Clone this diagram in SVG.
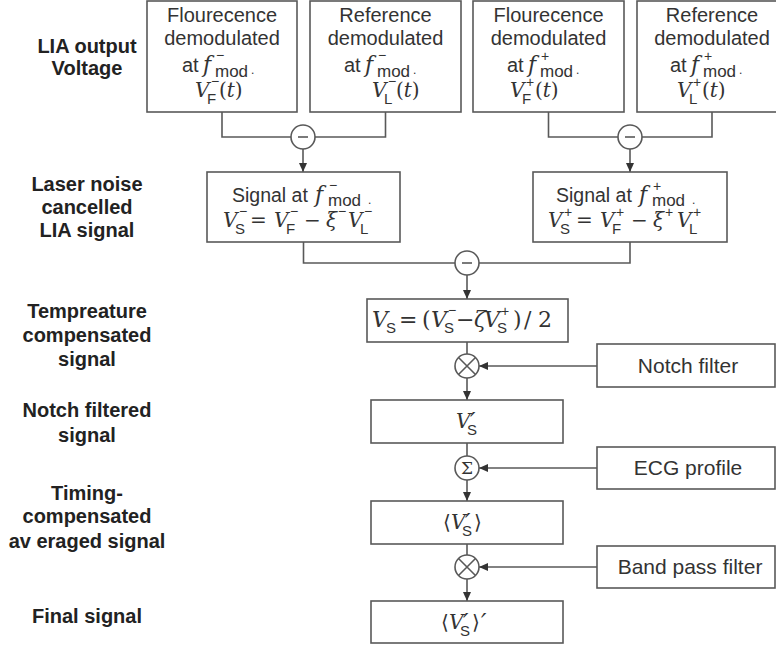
<svg xmlns="http://www.w3.org/2000/svg" width="776" height="646" viewBox="0 0 776 646">
<style>
.box{fill:#fff;stroke:#595959;stroke-width:1.6}
.ln{fill:none;stroke:#595959;stroke-width:1.6}
.arr{fill:none;stroke:#595959;stroke-width:1.6;marker-end:url(#ah)}
.op{fill:#fff;stroke:#595959;stroke-width:1.6}
.t{font-family:"Liberation Sans",Arial,sans-serif;font-size:20px;fill:#333}
.tc{text-anchor:middle}
.r{font-size:21px}
.lbl{font-family:"Liberation Sans",Arial,sans-serif;font-weight:bold;font-size:20px;fill:#222;text-anchor:middle}
.mi{font-family:"DejaVu Serif","Liberation Serif",serif;font-style:italic;font-size:20px}
.mr{font-family:"DejaVu Serif","Liberation Serif",serif;font-style:normal;font-size:20px}
.sb{font-family:"Liberation Sans",Arial,sans-serif;font-style:normal;font-size:15px}
.sp{font-family:"Liberation Sans",Arial,sans-serif;font-style:normal;font-size:14px}
.mod{font-family:"Liberation Sans",Arial,sans-serif;font-style:normal;font-size:17px}
.dot{font-size:12px}
.big{font-size:22px}
.pr{font-family:"DejaVu Sans","Liberation Sans",sans-serif;font-style:italic;font-size:24px}
</style>
<defs>
<marker id="ah" markerUnits="userSpaceOnUse" markerWidth="9" markerHeight="8" refX="9" refY="4" orient="auto">
<path d="M0,0 L9,4 L0,8 z" fill="#333"/>
</marker>
</defs>

<g id="labels">
<text class="lbl" x="87" y="53">LIA output</text>
<text class="lbl" x="87" y="75">Voltage</text>
<text class="lbl" x="87" y="191">Laser noise</text>
<text class="lbl" x="87" y="214">cancelled</text>
<text class="lbl" x="87" y="237">LIA signal</text>
<text class="lbl" x="87" y="318">Tempreature</text>
<text class="lbl" x="87" y="342">compensated</text>
<text class="lbl" x="87" y="366">signal</text>
<text class="lbl" x="87" y="417">Notch filtered</text>
<text class="lbl" x="87" y="442">signal</text>
<text class="lbl" x="87" y="500">Timing-</text>
<text class="lbl" x="87" y="523">compensated</text>
<text class="lbl" x="87" y="548">av eraged signal</text>
<text class="lbl" x="87" y="623">Final signal</text>
</g>

<g id="connectors">
<path class="ln" d="M222,112 V137 H291"/>
<path class="ln" d="M385.5,112 V137 H315"/>
<path class="arr" d="M303,149 V172"/>
<path class="ln" d="M548.5,112 V137 H618"/>
<path class="ln" d="M712,112 V137 H642"/>
<path class="arr" d="M630,149 V172"/>
<path class="ln" d="M303.5,242 V263 H455"/>
<path class="ln" d="M630,242 V263 H479"/>
<path class="arr" d="M467,275 V299"/>
<path class="ln" d="M467,342 V354"/>
<path class="arr" d="M467,378 V400"/>
<path class="arr" d="M597,366 H479"/>
<path class="ln" d="M467,443 V456"/>
<path class="arr" d="M467,480 V501"/>
<path class="arr" d="M597,468 H479"/>
<path class="ln" d="M467,544 V555"/>
<path class="arr" d="M467,579 V601"/>
<path class="arr" d="M597,567 H479"/>
</g>

<g id="fluor-minus">
<rect class="box" x="147" y="1" width="150" height="111"/>
<text class="t tc" x="222" y="22">Flourecence</text>
<text class="t tc" x="222" y="45">demodulated</text>
<text class="t" y="72"><tspan x="182">at</tspan><tspan class="mi big" x="203">f</tspan><tspan class="sp" x="216" y="60">−</tspan><tspan class="mod" x="215" y="77">mod</tspan><tspan class="dot" x="251" y="74">.</tspan></text>
<text class="t" y="97"><tspan class="mi" x="195">V</tspan><tspan class="sp" x="211" y="86">−</tspan><tspan class="sb" x="207" y="104">F</tspan><tspan class="mr" x="219" y="97">(</tspan><tspan class="mi">t</tspan><tspan class="mr">)</tspan></text>
</g>

<g id="ref-minus">
<rect class="box" x="310" y="1" width="151" height="111"/>
<text class="t tc" x="385.5" y="22">Reference</text>
<text class="t tc" x="385.5" y="45">demodulated</text>
<text class="t" y="72"><tspan x="344">at</tspan><tspan class="mi big" x="365">f</tspan><tspan class="sp" x="378" y="60">−</tspan><tspan class="mod" x="377" y="77">mod</tspan><tspan class="dot" x="413" y="74">.</tspan></text>
<text class="t" y="97"><tspan class="mi" x="372">V</tspan><tspan class="sp" x="388" y="86">−</tspan><tspan class="sb" x="384" y="104">L</tspan><tspan class="mr" x="396" y="97">(</tspan><tspan class="mi">t</tspan><tspan class="mr">)</tspan></text>
</g>

<g id="fluor-plus">
<rect class="box" x="473" y="1" width="151" height="111"/>
<text class="t tc" x="548.5" y="22">Flourecence</text>
<text class="t tc" x="548.5" y="45">demodulated</text>
<text class="t" y="72"><tspan x="507">at</tspan><tspan class="mi big" x="528">f</tspan><tspan class="sp" x="541" y="61">+</tspan><tspan class="mod" x="540" y="77">mod</tspan><tspan class="dot" x="576" y="74">.</tspan></text>
<text class="t" y="97"><tspan class="mi" x="510">V</tspan><tspan class="sp" x="526" y="87">+</tspan><tspan class="sb" x="522" y="104">F</tspan><tspan class="mr" x="535" y="97">(</tspan><tspan class="mi">t</tspan><tspan class="mr">)</tspan></text>
</g>

<g id="ref-plus">
<rect class="box" x="637" y="1" width="151" height="111"/>
<text class="t tc" x="712" y="22">Reference</text>
<text class="t tc" x="712" y="45">demodulated</text>
<text class="t" y="72"><tspan x="670">at</tspan><tspan class="mi big" x="691">f</tspan><tspan class="sp" x="704" y="61">+</tspan><tspan class="mod" x="703" y="77">mod</tspan><tspan class="dot" x="739" y="74">.</tspan></text>
<text class="t" y="97"><tspan class="mi" x="677">V</tspan><tspan class="sp" x="693" y="87">+</tspan><tspan class="sb" x="689" y="104">L</tspan><tspan class="mr" x="702" y="97">(</tspan><tspan class="mi">t</tspan><tspan class="mr">)</tspan></text>
</g>

<g id="sub-top-left">
<circle class="op" cx="303" cy="137" r="12"/>
<line class="ln" x1="298" y1="137" x2="308" y2="137"/>
</g>
<g id="sub-top-right">
<circle class="op" cx="630" cy="137" r="12"/>
<line class="ln" x1="625" y1="137" x2="635" y2="137"/>
</g>

<g id="signal-minus">
<rect class="box" x="207" y="172" width="193" height="70"/>
<text class="t" y="202" style="font-size:19.5px"><tspan x="232">Signal at</tspan><tspan class="mi big" x="315">f</tspan><tspan class="sp" x="329" y="190">−</tspan><tspan class="mod" x="328" y="206">mod</tspan><tspan class="dot" x="368" y="204">.</tspan></text>
<text class="t" y="227"><tspan class="mi" x="223">V</tspan><tspan class="sp" x="239" y="216">−</tspan><tspan class="sb" x="235" y="234">S</tspan><tspan class="mr" x="250" y="227">=</tspan><tspan class="mi" x="274">V</tspan><tspan class="sp" x="290" y="216">−</tspan><tspan class="sb" x="286" y="234">F</tspan><tspan class="mr" x="304" y="227">−</tspan><tspan class="mi" x="326">ξ</tspan><tspan class="sp" x="338" y="216">−</tspan><tspan class="mi" x="348" y="227">V</tspan><tspan class="sp" x="364" y="216">−</tspan><tspan class="sb" x="360" y="234">L</tspan></text>
</g>

<g id="signal-plus">
<rect class="box" x="533" y="172" width="194" height="70"/>
<text class="t" y="202" style="font-size:19.5px"><tspan x="556">Signal at</tspan><tspan class="mi big" x="639">f</tspan><tspan class="sp" x="653" y="191">+</tspan><tspan class="mod" x="652" y="206">mod</tspan><tspan class="dot" x="692" y="204">.</tspan></text>
<text class="t" y="227"><tspan class="mi" x="548">V</tspan><tspan class="sp" x="564" y="217">+</tspan><tspan class="sb" x="560" y="234">S</tspan><tspan class="mr" x="576" y="227">=</tspan><tspan class="mi" x="600">V</tspan><tspan class="sp" x="616" y="217">+</tspan><tspan class="sb" x="612" y="234">F</tspan><tspan class="mr" x="631" y="227">−</tspan><tspan class="mi" x="653">ξ</tspan><tspan class="sp" x="665" y="217">+</tspan><tspan class="mi" x="677" y="227">V</tspan><tspan class="sp" x="693" y="217">+</tspan><tspan class="sb" x="689" y="234">L</tspan></text>
</g>

<g id="sub-mid">
<circle class="op" cx="467" cy="263" r="12"/>
<line class="ln" x1="462" y1="263" x2="472" y2="263"/>
</g>

<g id="temp-comp">
<rect class="box" x="367" y="299" width="201" height="43"/>
<text class="t" y="327"><tspan class="mi big" x="372">V</tspan><tspan class="sb" x="386" y="333">S</tspan><tspan class="mr big" x="399" y="327">=</tspan><tspan class="mr big" x="422">(</tspan><tspan class="mi big" x="431">V</tspan><tspan class="sp" x="448" y="315">−</tspan><tspan class="sb" x="444" y="333">S</tspan><tspan class="mr big" x="456" y="327">−</tspan><tspan class="mi big" x="474">ζ</tspan><tspan class="mi big" x="484">V</tspan><tspan class="sp" x="501" y="316">+</tspan><tspan class="sb" x="497" y="333">S</tspan><tspan class="mr big" x="513" y="327">)</tspan><tspan class="mr big" x="524">/</tspan><tspan class="mr big" x="538">2</tspan></text>
</g>

<g id="mult-notch">
<circle class="op" cx="467" cy="366" r="12"/>
<path class="ln" d="M458.5,357.5 L475.5,374.5 M475.5,357.5 L458.5,374.5"/>
</g>
<g id="notch-filter">
<rect class="box" x="597" y="344" width="178" height="43"/>
<text class="t r tc" x="688" y="373">Notch filter</text>
</g>

<g id="notch-filtered">
<rect class="box" x="371" y="400" width="192" height="43"/>
<text class="t" y="428"><tspan class="mi" x="456">V</tspan><tspan class="pr" x="470" y="430">′</tspan><tspan class="sb" x="467" y="435">S</tspan></text>
</g>

<g id="sum-ecg">
<circle class="op" cx="467" cy="468" r="12"/>
<text class="mr tc" x="467" y="474" style="font-size:17px;fill:#333">Σ</text>
</g>
<g id="ecg-profile">
<rect class="box" x="597" y="447" width="178" height="42"/>
<text class="t r tc" x="688" y="475">ECG profile</text>
</g>

<g id="averaged">
<rect class="box" x="371" y="501" width="192" height="43"/>
<text class="t" y="529"><tspan class="mr" x="443">⟨</tspan><tspan class="mi" x="451">V</tspan><tspan class="pr" x="465" y="531">′</tspan><tspan class="sb" x="462" y="536">S</tspan><tspan class="mr" x="474" y="529">⟩</tspan></text>
</g>

<g id="mult-band">
<circle class="op" cx="467" cy="567" r="12"/>
<path class="ln" d="M458.5,558.5 L475.5,575.5 M475.5,558.5 L458.5,575.5"/>
</g>
<g id="band-pass">
<rect class="box" x="597" y="546" width="178" height="42"/>
<text class="t r tc" x="690" y="574">Band pass filter</text>
</g>

<g id="final">
<rect class="box" x="371" y="601" width="192" height="42"/>
<text class="t" y="629"><tspan class="mr" x="441">⟨</tspan><tspan class="mi" x="449">V</tspan><tspan class="pr" x="463" y="631">′</tspan><tspan class="sb" x="460" y="636">S</tspan><tspan class="mr" x="472" y="629">⟩</tspan><tspan class="pr" x="481" y="631">′</tspan></text>
</g>
</svg>
